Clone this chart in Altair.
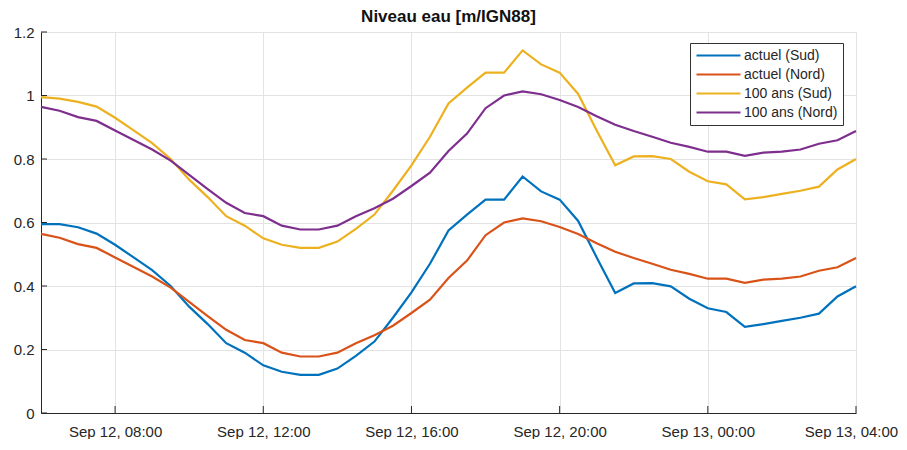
import altair as alt
import pandas as pd

series_names = ["actuel (Sud)", "actuel (Nord)", "100 ans (Sud)", "100 ans (Nord)"]
series_colors = ["#0072BD", "#D95319", "#EDB120", "#7E2F8E"]

# half-hourly time stamps, Sep 12 1938 06:00 -> Sep 13 04:00 (UTC)
times = pd.date_range("1938-09-12T06:00:00", periods=45, freq="30min").strftime("%Y-%m-%dT%H:%M:%SZ").tolist()

sud_actuel = [0.595, 0.595, 0.585, 0.565, 0.53, 0.49, 0.45, 0.40, 0.335, 0.28, 0.22, 0.19,
              0.15, 0.13, 0.12, 0.12, 0.14, 0.18, 0.225, 0.30, 0.38, 0.47, 0.575, 0.625,
              0.672, 0.672, 0.745, 0.698, 0.672, 0.605, 0.49, 0.378, 0.408, 0.409, 0.399,
              0.36, 0.33, 0.318, 0.271, 0.28, 0.29, 0.30, 0.313, 0.367, 0.399]
nord_actuel = [0.564, 0.552, 0.532, 0.52, 0.49, 0.46, 0.43, 0.395, 0.35, 0.305, 0.262, 0.23,
               0.22, 0.19, 0.178, 0.178, 0.19, 0.22, 0.245, 0.275, 0.315, 0.357, 0.425, 0.48,
               0.56, 0.60, 0.613, 0.604, 0.586, 0.564, 0.535, 0.508, 0.488, 0.47, 0.451,
               0.438, 0.423, 0.423, 0.41, 0.42, 0.423, 0.43, 0.448, 0.459, 0.488]
sud_100 = [0.995, 0.99, 0.98, 0.965, 0.93, 0.89, 0.85, 0.80, 0.735, 0.68, 0.62, 0.59,
           0.55, 0.53, 0.52, 0.52, 0.54, 0.58, 0.625, 0.70, 0.78, 0.87, 0.975, 1.025,
           1.072, 1.072, 1.142, 1.098, 1.072, 1.005, 0.89, 0.78, 0.808, 0.809, 0.80,
           0.76, 0.73, 0.72, 0.673, 0.68, 0.69, 0.70, 0.713, 0.767, 0.80]
nord_100 = [0.964, 0.952, 0.932, 0.92, 0.89, 0.86, 0.83, 0.795, 0.75, 0.705, 0.662, 0.63,
            0.62, 0.59, 0.578, 0.578, 0.59, 0.62, 0.645, 0.675, 0.715, 0.757, 0.825, 0.88,
            0.96, 1.0, 1.013, 1.004, 0.986, 0.964, 0.935, 0.908, 0.888, 0.87, 0.851,
            0.838, 0.823, 0.823, 0.81, 0.82, 0.823, 0.83, 0.848, 0.859, 0.888]

y_tick_values = [0, 0.2, 0.4, 0.6, 0.8, 1.0, 1.2]
x_tick_hours = [("1938-09-12", 8), ("1938-09-12", 12), ("1938-09-12", 16),
                ("1938-09-12", 20), ("1938-09-13", 0), ("1938-09-13", 4)]

rows = []
for name, vals in zip(series_names, [sud_actuel, nord_actuel, sud_100, nord_100]):
    for t, v in zip(times, vals):
        rows.append({"time": t, "value": v, "series": name})
df = pd.DataFrame(rows)


def dt(day, hour):
    y, m, d = [int(p) for p in day.split("-")]
    return alt.DateTime(year=y, month=m, date=d, hours=hour, utc=True)


x_ticks = [dt(d, h) for d, h in x_tick_hours]
x_tick_strings = [f"{d}T{h:02d}:00:00Z" for d, h in x_tick_hours]
x_tick_df = pd.DataFrame({"time": x_tick_strings})
y_tick_df = pd.DataFrame({"value": y_tick_values})
last_tick_ms = int(pd.Timestamp(x_tick_strings[-1]).value // 10**6)

W, H = 815, 381
FONT = "Liberation Sans"
TXT = "#262626"

x_enc = alt.X(
    "time:T",
    scale=alt.Scale(type="utc", domain=[dt("1938-09-12", 6), dt("1938-09-13", 4)]),
    axis=alt.Axis(values=x_ticks, format="%b %d, %H:%M", title=None, ticks=False,
                  labelPadding=11, labelFontSize=15, labelFont=FONT, labelColor=TXT,
                  labelOffset=alt.condition(f"datum.value >= {last_tick_ms - 1000}",
                                            alt.value(-5), alt.value(0)),
                  domainColor=TXT, gridColor="#e3e3e3", labelFlush=False, labelOverlap=False),
)
y_enc = alt.Y(
    "value:Q",
    scale=alt.Scale(domain=[0, 1.2], nice=False, zero=False),
    axis=alt.Axis(values=y_tick_values, format="~g", title=None, ticks=False,
                  labelPadding=7, labelFontSize=15, labelFont=FONT, labelColor=TXT,
                  domainColor=TXT, gridColor="#e3e3e3"),
)

lines = alt.Chart(df).mark_line(strokeWidth=2.2).encode(
    x=x_enc,
    y=y_enc,
    color=alt.Color(
        "series:N",
        scale=alt.Scale(domain=series_names, range=series_colors),
        sort=series_names,
        legend=alt.Legend(title=None, orient="none", legendX=649, legendY=11,
                          strokeColor="#333333", fillColor="white", padding=5,
                          labelFontSize=14, labelFont=FONT, labelColor=TXT,
                          symbolType="M-1,0L6.33,0", symbolStrokeWidth=2.2, symbolSize=144,
                          rowPadding=4, labelOffset=34, cornerRadius=0),
    ),
)

xt = alt.Chart(x_tick_df).mark_rule(color=TXT, strokeWidth=1).encode(
    x=alt.X("time:T"), y=alt.value(H), y2=alt.value(H - 7)
)
yt = alt.Chart(y_tick_df).mark_rule(color=TXT, strokeWidth=1).encode(
    y=alt.Y("value:Q"), x=alt.value(0), x2=alt.value(6)
)

chart = alt.layer(lines, xt, yt).properties(
    width=W,
    height=H,
    title=alt.TitleParams("Niveau eau [m/IGN88]", fontSize=17, fontWeight="bold", font=FONT,
                          color="#111111", anchor="middle", offset=-1),
    autosize=alt.AutoSizeParams(type="none"),
    padding={"left": 33, "top": 24, "right": 42, "bottom": 26},
).configure_view(stroke="#d4d4d4", strokeWidth=1)

chart.save("out.html", embed_options={"renderer": "svg", "actions": False})
